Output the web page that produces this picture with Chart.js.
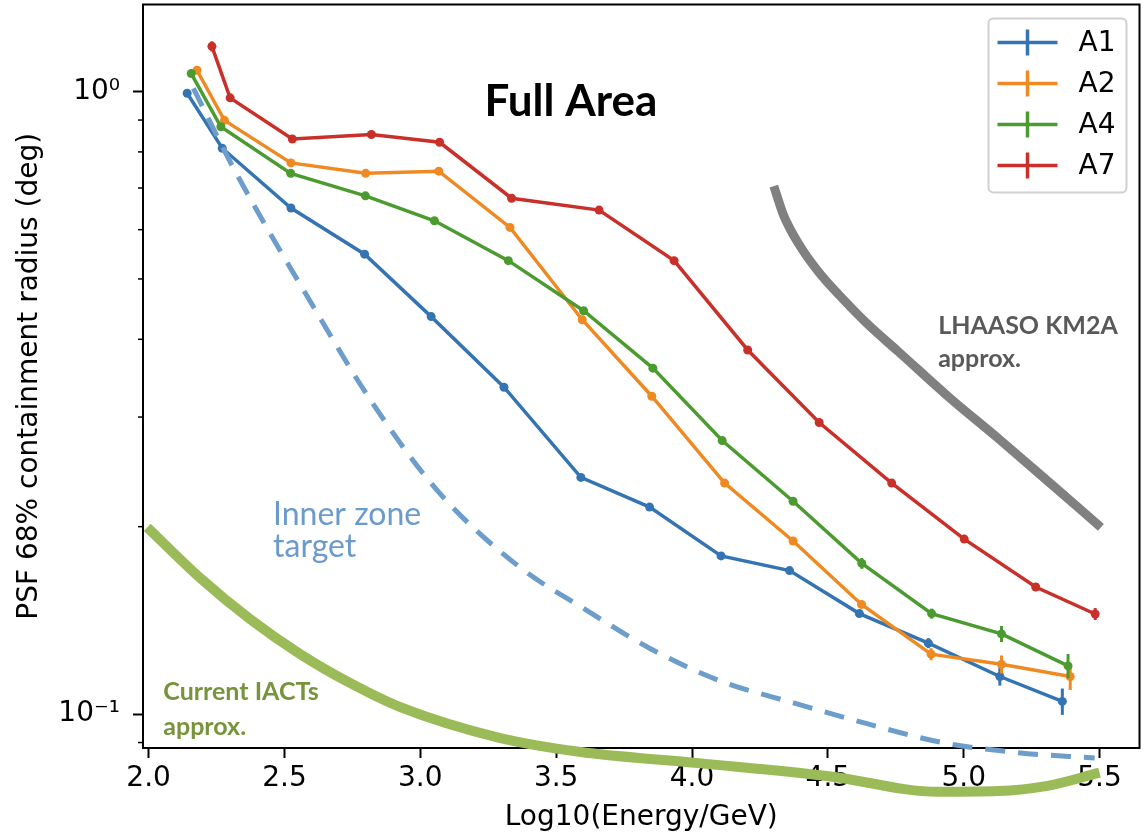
<!DOCTYPE html>
<html>
<head>
<meta charset="utf-8">
<title>PSF 68% containment radius</title>
<script src="https://cdn.jsdelivr.net/npm/chart.js@4.4.0/dist/chart.umd.min.js"></script>
<style>
    html, body { margin: 0; padding: 0; background: #fff; }
    #wrap { width: 1144px; height: 835px; }
</style>
</head>
<body>
<div id="wrap"><canvas id="psf-chart"></canvas></div>
<script>
// Axis ticks
const X_TICKS = [2.0, 2.5, 3.0, 3.5, 4.0, 4.5, 5.0, 5.5];
const X_TICK_LABELS = ['2.0', '2.5', '3.0', '3.5', '4.0', '4.5', '5.0', '5.5'];
const Y_TICKS = [0.1, 1];
const Y_TICK_LABELS = ['10\u207B\u00B9', '10\u2070'];
const Y_MINOR = [0.09, 0.2, 0.3, 0.4, 0.5, 0.6, 0.7, 0.8, 0.9];

// Measured series: log10(E/GeV) vs radius (deg), with y error
const A1_X = [2.142, 2.271, 2.524, 2.795, 3.040, 3.308, 3.591, 3.844, 4.107, 4.359, 4.616, 4.870, 5.133, 5.363];
const A1_Y = [0.994, 0.811, 0.650, 0.548, 0.435, 0.335, 0.240, 0.215, 0.1795, 0.170, 0.145, 0.130, 0.1149, 0.1048];
const A1_ERR = [0.004, 0.003, 0.002, 0.002, 0.002, 0.002, 0.002, 0.002, 0.002, 0.002, 0.0015, 0.0024, 0.0038, 0.0051];

const A2_X = [2.178, 2.279, 2.524, 2.799, 3.068, 3.330, 3.596, 3.852, 4.120, 4.372, 4.624, 4.880, 5.139, 5.392];
const A2_Y = [1.082, 0.899, 0.768, 0.739, 0.745, 0.605, 0.430, 0.324, 0.235, 0.1897, 0.150, 0.1248, 0.1202, 0.1149];
const A2_ERR = [0.008, 0.004, 0.003, 0.003, 0.003, 0.003, 0.002, 0.002, 0.002, 0.002, 0.002, 0.0028, 0.004, 0.0056];

const A4_X = [2.157, 2.266, 2.523, 2.798, 3.052, 3.324, 3.601, 3.856, 4.111, 4.372, 4.625, 4.882, 5.139, 5.384];
const A4_Y = [1.069, 0.878, 0.739, 0.680, 0.620, 0.535, 0.4445, 0.3595, 0.275, 0.2197, 0.1746, 0.145, 0.1345, 0.1195];
const A4_ERR = [0.008, 0.004, 0.003, 0.003, 0.003, 0.003, 0.002, 0.002, 0.002, 0.002, 0.0035, 0.0027, 0.004, 0.0054];

const A7_X = [2.233, 2.300, 2.529, 2.820, 3.071, 3.336, 3.658, 3.934, 4.205, 4.468, 4.735, 5.002, 5.265, 5.484];
const A7_Y = [1.182, 0.977, 0.839, 0.853, 0.829, 0.674, 0.645, 0.535, 0.3845, 0.294, 0.235, 0.191, 0.160, 0.1448];
const A7_ERR = [0.022, 0.006, 0.004, 0.004, 0.004, 0.003, 0.003, 0.003, 0.002, 0.002, 0.002, 0.002, 0.0024, 0.0032];

// Hand-drawn reference curves
const INNER_X = [2.165, 2.312, 2.594, 2.825, 3.071, 3.365, 3.611, 3.842, 4.102, 4.374, 4.644, 4.921, 5.199, 5.482];
const INNER_Y = [1.012, 0.754, 0.461, 0.3155, 0.2264, 0.1723, 0.1469, 0.1277, 0.1131, 0.1042, 0.0965, 0.0900, 0.0867, 0.0850];

const LHAASO_X = [4.301, 4.337, 4.393, 4.466, 4.558, 4.649, 4.760, 4.943, 5.127, 5.310, 5.505];
const LHAASO_Y = [0.705, 0.633, 0.569, 0.513, 0.463, 0.422, 0.382, 0.3236, 0.2772, 0.2366, 0.1995];

const IACT_X = [1.995, 2.190, 2.373, 2.557, 2.741, 2.924, 3.291, 3.585, 4.025, 4.510, 4.906, 5.127, 5.303, 5.500];
const IACT_Y = [0.1995, 0.1654, 0.1421, 0.1249, 0.1122, 0.1027, 0.0916, 0.0870, 0.0834, 0.0794, 0.0750, 0.0752, 0.0766, 0.0805];

const SERIES = [
    { label: 'A1', xs: A1_X, ys: A1_Y, err: A1_ERR, color: '#3574b3' },
    { label: 'A2', xs: A2_X, ys: A2_Y, err: A2_ERR, color: '#ef8a22' },
    { label: 'A4', xs: A4_X, ys: A4_Y, err: A4_ERR, color: '#4c9b30' },
    { label: 'A7', xs: A7_X, ys: A7_Y, err: A7_ERR, color: '#c9302a' }
];

// Text notes, placed in data coordinates (x, baseline y per line)
const NOTES = [
    { lines: ['Full Area'], x: 3.236, ys: [0.913], font: 'bold 44px Lato', color: '#000000' },
    { lines: ['LHAASO KM2A', 'approx.'], x: 4.906, ys: [0.408, 0.3606], font: 'bold 25px Lato', color: '#595959' },
    { lines: ['Inner zone', 'target'], x: 2.458, ys: [0.201, 0.1789], font: '32px Lato', color: '#6b9bcc' },
    { lines: ['Current IACTs', 'approx.'], x: 2.054, ys: [0.1054, 0.0926], font: 'bold 25px Lato', color: '#77933c' }
];

const toPoints = (xs, ys) => xs.map((x, i) => ({ x: x, y: ys[i] }));

const datasets = SERIES.map((s, i) => ({
    label: s.label,
    data: toPoints(s.xs, s.ys),
    errors: s.err,
    borderColor: s.color,
    backgroundColor: s.color,
    borderWidth: 3.5,
    pointRadius: 4.5,
    pointBorderWidth: 0,
    tension: 0,
    order: 4 - i
}));

datasets.push({
    label: 'Inner zone target',
    data: toPoints(INNER_X, INNER_Y),
    borderColor: '#6c9dcb',
    borderWidth: 5,
    borderDash: [20, 13],
    pointRadius: 0,
    cubicInterpolationMode: 'monotone',
    clip: false,
    order: 0
}, {
    label: 'LHAASO KM2A approx.',
    data: toPoints(LHAASO_X, LHAASO_Y),
    borderColor: '#808080',
    borderWidth: 9,
    pointRadius: 0,
    cubicInterpolationMode: 'monotone',
    clip: false,
    order: 0
}, {
    label: 'Current IACTs approx.',
    data: toPoints(IACT_X, IACT_Y),
    borderColor: '#9bbb59',
    borderWidth: 10,
    pointRadius: 0,
    cubicInterpolationMode: 'monotone',
    clip: false,
    order: 0
});

// Frame and minor y ticks
const framePlugin = {
    id: 'frame',
    beforeDatasetsDraw(chart) {
        const { ctx, chartArea: a, scales: { y } } = chart;
        ctx.save();
        ctx.strokeStyle = '#000';
        ctx.lineWidth = 1.5;
        Y_MINOR.forEach(v => {
            const py = y.getPixelForValue(v);
            ctx.beginPath();
            ctx.moveTo(a.left - 5, py);
            ctx.lineTo(a.left, py);
            ctx.stroke();
        });
        ctx.lineWidth = 2;
        ctx.strokeRect(a.left, a.top, a.right - a.left, a.bottom - a.top);
        ctx.restore();
    }
};

// Vertical error bars, drawn with each dataset
const errorBarPlugin = {
    id: 'errorBars',
    afterDatasetDraw(chart, args) {
        const ds = chart.data.datasets[args.index];
        if (!ds.errors) return;
        const { ctx, scales: { x, y } } = chart;
        ctx.save();
        ctx.strokeStyle = ds.borderColor;
        ctx.lineWidth = 3;
        ds.data.forEach((p, i) => {
            const px = x.getPixelForValue(p.x);
            ctx.beginPath();
            ctx.moveTo(px, y.getPixelForValue(p.y - ds.errors[i]));
            ctx.lineTo(px, y.getPixelForValue(p.y + ds.errors[i]));
            ctx.stroke();
        });
        ctx.restore();
    }
};

// Annotations + matplotlib-style legend
const overlayPlugin = {
    id: 'overlay',
    afterDatasetsDraw(chart) {
        const { ctx, chartArea: a, scales: { x, y } } = chart;
        ctx.save();
        ctx.textAlign = 'left';
        ctx.textBaseline = 'alphabetic';
        NOTES.forEach(n => {
            ctx.font = n.font;
            ctx.fillStyle = n.color;
            n.lines.forEach((t, i) => {
                ctx.fillText(t, x.getPixelForValue(n.x), y.getPixelForValue(n.ys[i]));
            });
        });

        // legend box
        const bx = a.right - 151, by = a.top + 14, bw = 138, bh = 174;
        ctx.beginPath();
        ctx.roundRect(bx, by, bw, bh, 5);
        ctx.fillStyle = 'rgba(255,255,255,0.85)';
        ctx.fill();
        ctx.strokeStyle = '#d0d0d0';
        ctx.lineWidth = 2;
        ctx.stroke();

        ctx.font = '28px "DejaVu Sans"';
        ctx.textBaseline = 'middle';
        SERIES.forEach((s, i) => {
            const cy = by + 24 + i * 41;
            const lx = bx + 9;
            ctx.strokeStyle = s.color;
            ctx.lineWidth = 3.5;
            ctx.beginPath();
            ctx.moveTo(lx, cy);
            ctx.lineTo(lx + 60, cy);
            ctx.moveTo(lx + 30, cy - 13);
            ctx.lineTo(lx + 30, cy + 13);
            ctx.stroke();
            ctx.fillStyle = '#000';
            ctx.fillText(s.label, lx + 81, cy + 1);
        });
        ctx.restore();
    }
};

Chart.defaults.font.family = '"DejaVu Sans", sans-serif';
Chart.defaults.color = '#000';

new Chart(document.getElementById('psf-chart'), {
    type: 'line',
    data: { datasets: datasets },
    options: {
        responsive: true,
        maintainAspectRatio: false,
        devicePixelRatio: 1,
        animation: false,
        events: [],
        layout: { padding: { top: 3, right: 2, bottom: 0, left: 0 } },
        elements: { line: { capBezierPoints: false } },
        plugins: {
            legend: { display: false },
            tooltip: { enabled: false }
        },
        scales: {
            x: {
                type: 'linear',
                min: 1.9794,
                max: 5.647,
                afterBuildTicks: scale => {
                    scale.ticks = X_TICKS.map(v => ({ value: v }));
                },
                afterFit: scale => {
                    scale.height = 87;
                    scale.paddingLeft = 0;
                    scale.paddingRight = 0;
                },
                ticks: {
                    autoSkip: false,
                    maxRotation: 0,
                    padding: 4,
                    font: { size: 28 },
                    color: '#000',
                    callback: v => {
                        const i = X_TICKS.findIndex(t => Math.abs(t - v) < 1e-6);
                        return i >= 0 ? X_TICK_LABELS[i] : '';
                    }
                },
                grid: {
                    drawOnChartArea: false,
                    drawTicks: true,
                    tickLength: 10,
                    tickWidth: 2,
                    tickColor: '#000'
                },
                border: { display: false },
                title: {
                    display: true,
                    text: 'Log10(Energy/GeV)',
                    font: { size: 28 },
                    color: '#000',
                    padding: { top: 0, bottom: 0 }
                }
            },
            y: {
                type: 'logarithmic',
                min: 0.0882,
                max: 1.38,
                afterBuildTicks: scale => {
                    scale.ticks = Y_TICKS.map(v => ({ value: v }));
                },
                afterFit: scale => {
                    scale.width = 143;
                    scale.paddingTop = 0;
                    scale.paddingBottom = 0;
                },
                ticks: {
                    autoSkip: false,
                    padding: 13,
                    font: { size: 28 },
                    color: '#000',
                    callback: v => {
                        const i = Y_TICKS.findIndex(t => Math.abs(t - v) < 1e-9);
                        return i >= 0 ? Y_TICK_LABELS[i] : '';
                    }
                },
                grid: {
                    drawOnChartArea: false,
                    drawTicks: true,
                    tickLength: 10,
                    tickWidth: 2,
                    tickColor: '#000'
                },
                border: { display: false },
                title: {
                    display: true,
                    text: 'PSF 68% containment radius (deg)',
                    font: { size: 28 },
                    color: '#000',
                    padding: { top: 13, bottom: 0 }
                }
            }
        }
    },
    plugins: [framePlugin, errorBarPlugin, overlayPlugin]
});
</script>
</body>
</html>
